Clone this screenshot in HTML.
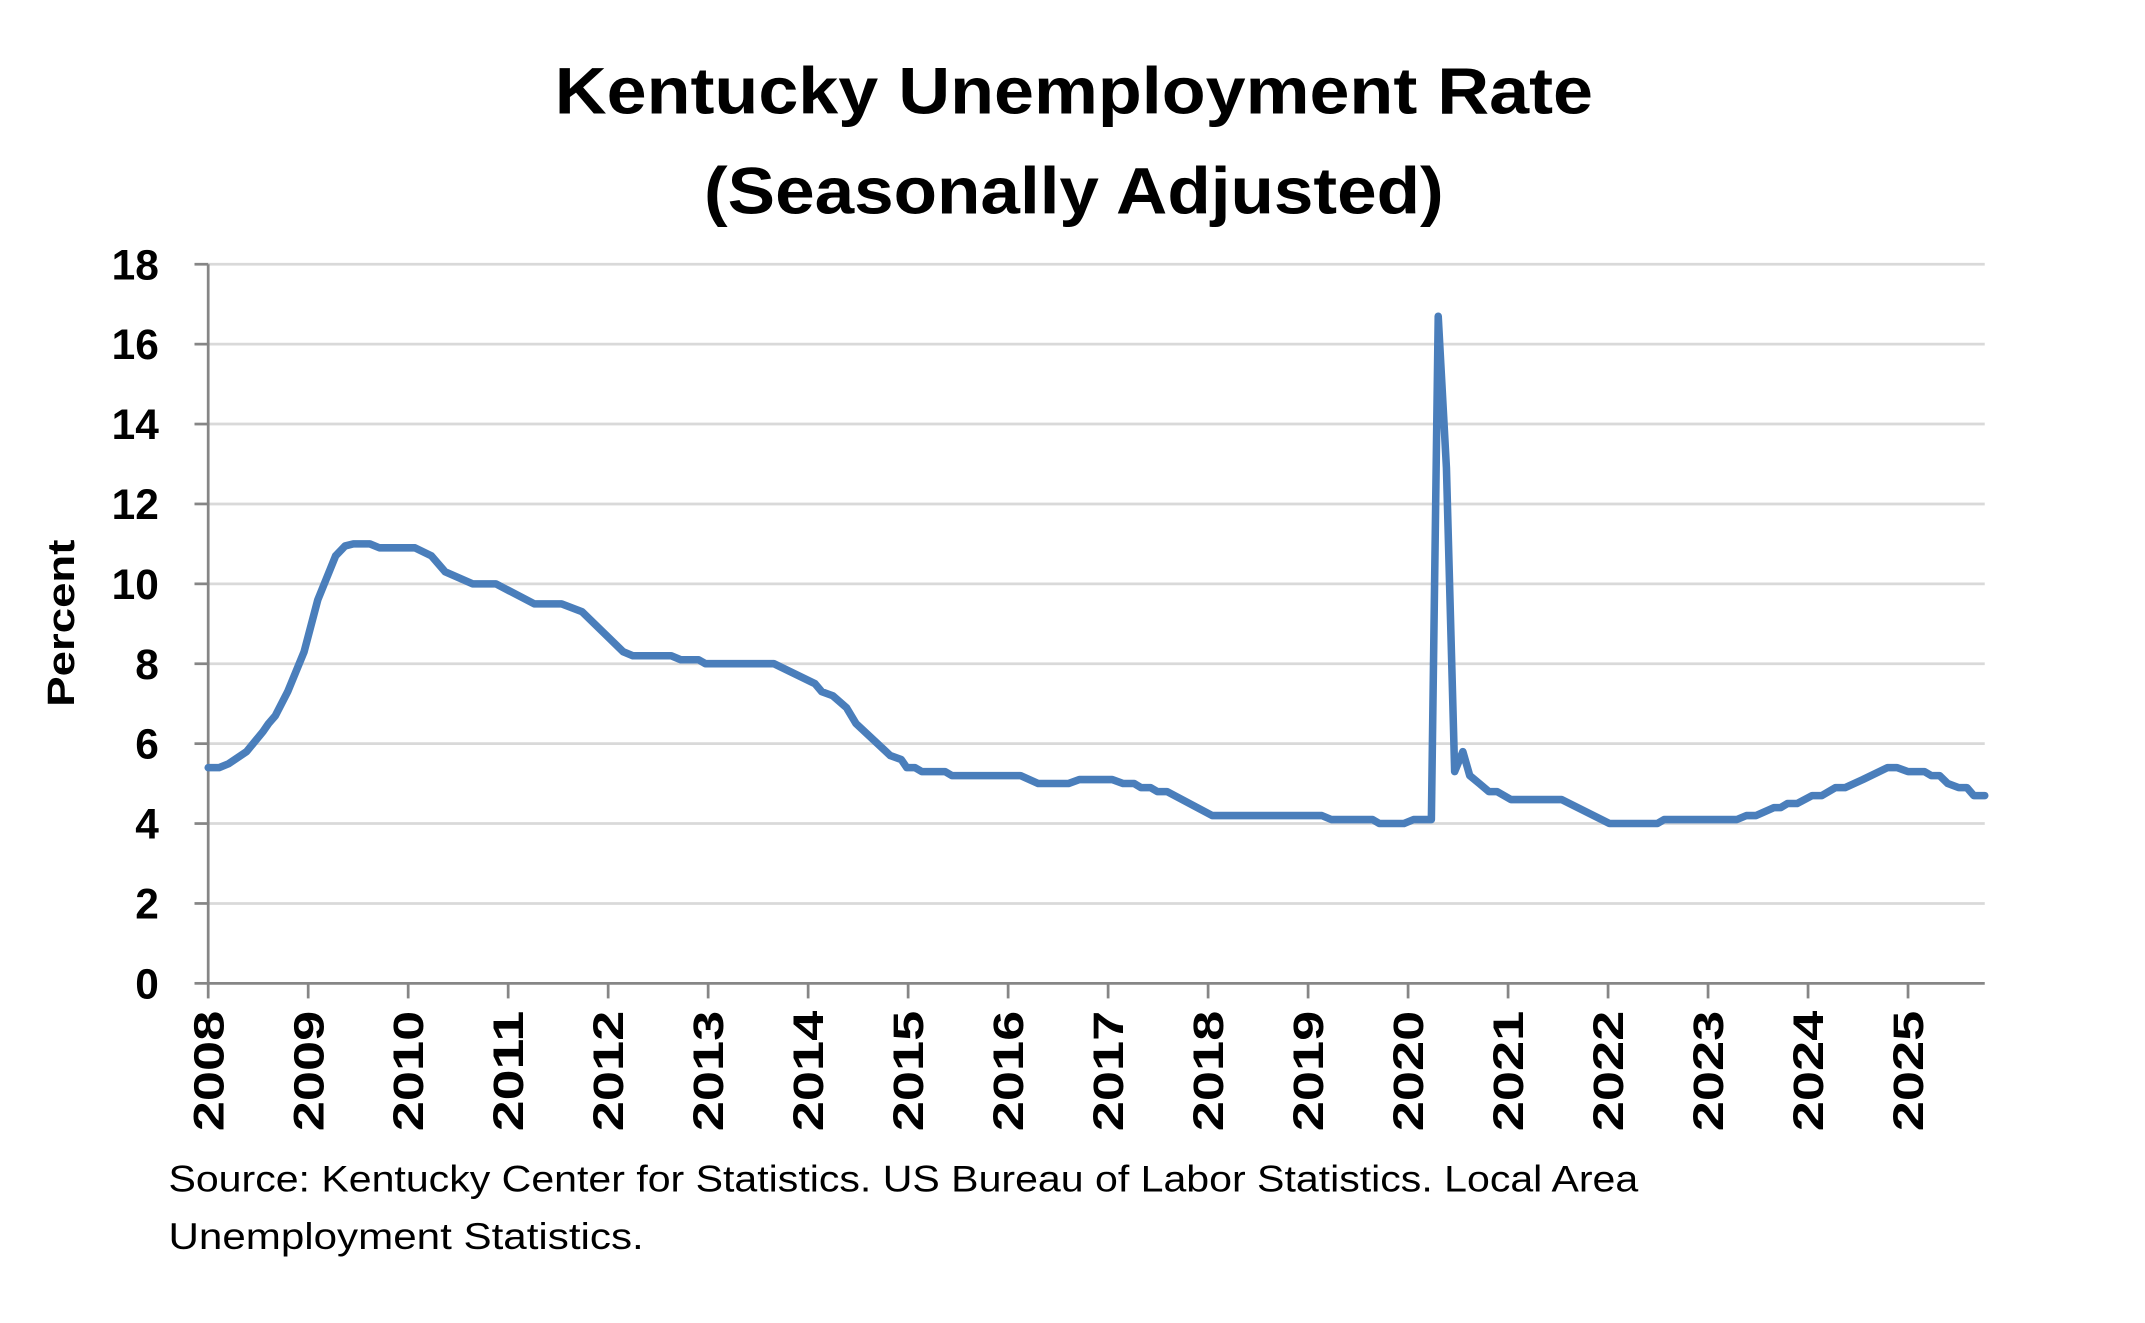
<!DOCTYPE html>
<html><head><meta charset="utf-8"><style>
html,body{margin:0;padding:0;background:#fff;}
svg{display:block;}
</style></head><body>
<svg id="s" width="2145" height="1323" viewBox="0 0 1566 966" preserveAspectRatio="none" xmlns="http://www.w3.org/2000/svg">
<rect width="1566" height="966" fill="#fff"/>
<text x="784" y="83" text-anchor="middle" font-family="Liberation Sans, sans-serif" font-weight="bold" font-size="48" textLength="758" lengthAdjust="spacingAndGlyphs">Kentucky Unemployment Rate</text>
<text x="784" y="156" text-anchor="middle" font-family="Liberation Sans, sans-serif" font-weight="bold" font-size="48" textLength="540" lengthAdjust="spacingAndGlyphs">(Seasonally Adjusted)</text>
<g id="grid"></g>
<g id="axes"></g>
<polyline id="line" fill="none" stroke="#4a7ebb" stroke-width="5.5" stroke-linejoin="round" stroke-linecap="round" points=""/>
<text transform="translate(54,455) rotate(-90)" text-anchor="middle" font-family="Liberation Sans, sans-serif" font-weight="bold" font-size="28" textLength="122" lengthAdjust="spacingAndGlyphs">Percent</text>
<text x="123" y="870" font-family="Liberation Sans, sans-serif" font-size="27" textLength="1073" lengthAdjust="spacingAndGlyphs">Source: Kentucky Center for Statistics. US Bureau of Labor Statistics. Local Area</text>
<text x="123" y="912" font-family="Liberation Sans, sans-serif" font-size="27" textLength="347" lengthAdjust="spacingAndGlyphs">Unemployment Statistics.</text>
</svg>
<script>
var NS="http://www.w3.org/2000/svg";
function X(t){return 152+(t-2008)*73;}
function Y(v){return 718-v*29.17;}
var g=document.getElementById('grid'),a=document.getElementById('axes');
function el(p,tag,attrs,txt){var e=document.createElementNS(NS,tag);for(var k in attrs)e.setAttribute(k,attrs[k]);if(txt!=null)e.textContent=txt;p.appendChild(e);return e;}
for(var v=2;v<=18;v+=2){el(g,'line',{x1:152,x2:1449,y1:Y(v),y2:Y(v),stroke:'#d9d9d9','stroke-width':2});}
for(var v=0;v<=18;v+=2){el(a,'line',{x1:142,x2:152,y1:Y(v),y2:Y(v),stroke:'#868686','stroke-width':2});
el(a,'text',{x:116,y:Y(v)+11,'text-anchor':'end','font-family':'Liberation Sans, sans-serif','font-weight':'bold','font-size':31},String(v));}
el(a,'line',{x1:152,x2:152,y1:Y(18),y2:718,stroke:'#868686','stroke-width':2});
el(a,'line',{x1:152,x2:1449,y1:718,y2:718,stroke:'#868686','stroke-width':2});
for(var yr=2008;yr<=2025;yr++){var x=X(yr);
el(a,'line',{x1:x,x2:x,y1:718,y2:729,stroke:'#868686','stroke-width':2});
el(a,'text',{transform:'translate('+(x+11)+',738) rotate(-90)','text-anchor':'end','font-family':'Liberation Sans, sans-serif','font-weight':'bold','font-size':31,textLength:88,lengthAdjust:'spacingAndGlyphs'},String(yr));}
var d=[[152,5.4],[160,5.4],[167,5.5],[180,5.8],[192,6.3],[196,6.5],[201,6.7],[210,7.3],[222,8.3],[232,9.6],[245,10.7],[252,10.95],[258,11.0],[270,11.0],[277,10.9],[303,10.9],[315,10.7],[325,10.3],[345,10.0],[362,10.0],[390,9.5],[410,9.5],[425,9.3],[440,8.8],[455,8.3],[462,8.2],[490,8.2],[497,8.1],[510,8.1],[515,8.0],[565,8.0],[595,7.5],[600,7.3],[608,7.2],[618,6.9],[625,6.5],[650,5.7],[658,5.6],[662,5.4],[668,5.4],[673,5.3],[690,5.3],[695,5.2],[745,5.2],[758,5.0],[780,5.0],[788,5.1],[812,5.1],[820,5.0],[828,5.0],[833,4.9],[840,4.9],[845,4.8],[852,4.8],[885,4.2],[965,4.2],[972,4.1],[1002,4.1],[1007,4.0],[1025,4.0],[1032,4.1],[1045,4.1],[1050,16.7],[1056,12.9],[1062,5.3],[1068,5.8],[1073,5.2],[1080,5.0],[1087,4.8],[1093,4.8],[1103,4.6],[1140,4.6],[1175,4.0],[1210,4.0],[1215,4.1],[1268,4.1],[1275,4.2],[1282,4.2],[1295,4.4],[1300,4.4],[1305,4.5],[1312,4.5],[1323,4.7],[1330,4.7],[1340,4.9],[1347,4.9],[1360,5.1],[1378,5.4],[1385,5.4],[1393,5.3],[1405,5.3],[1410,5.2],[1416,5.2],[1422,5.0],[1430,4.9],[1436,4.9],[1441,4.7],[1449,4.7]];
var pts=d.map(function(p){return p[0]+','+Y(p[1]).toFixed(1);});
document.getElementById('line').setAttribute('points',pts.join(' '));
</script>
</body></html>
